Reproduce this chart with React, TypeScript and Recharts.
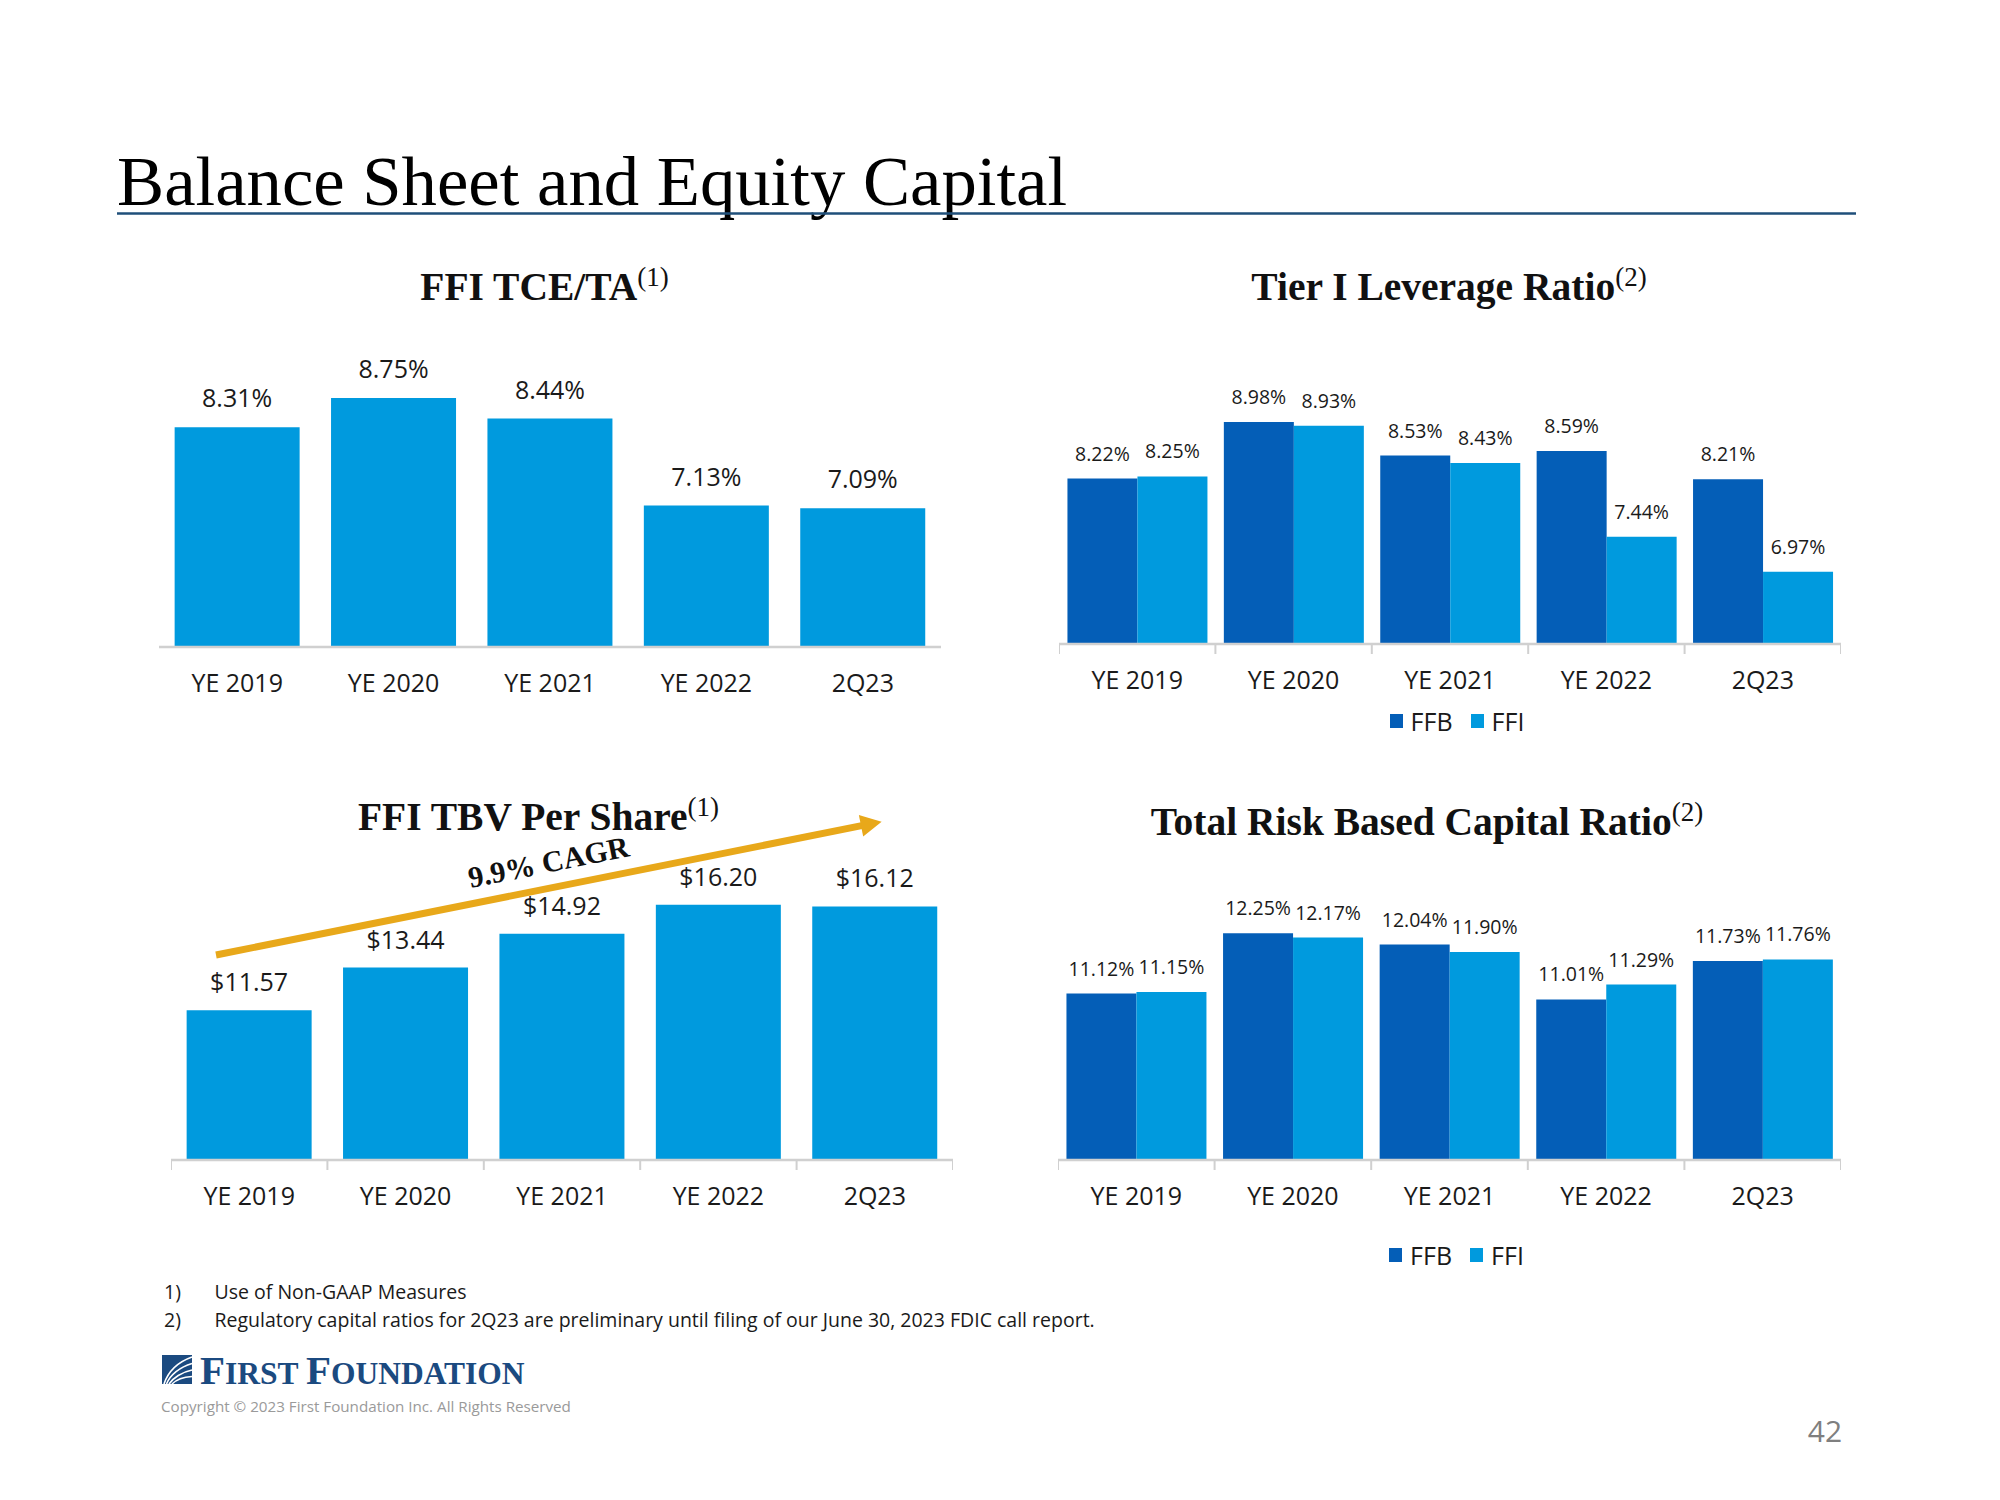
import React from 'react'
import { BarChart, Bar, XAxis, YAxis, LabelList, Legend } from 'recharts'

const PERIODS = ['YE 2019', 'YE 2020', 'YE 2021', 'YE 2022', '2Q23']
const TCE_TA = [8.31, 8.75, 8.44, 7.13, 7.09]
const TIER1_FFB = [8.22, 8.98, 8.53, 8.59, 8.21]
const TIER1_FFI = [8.25, 8.93, 8.43, 7.44, 6.97]
const TBV_PER_SHARE = [11.57, 13.44, 14.92, 16.2, 16.12]
const TRBC_FFB = [11.12, 12.25, 12.04, 11.01, 11.73]
const TRBC_FFI = [11.15, 12.17, 11.9, 11.29, 11.76]

const FFB_BLUE = '#045EB7'
const FFI_BLUE = '#009ADE'
const AXIS_GRAY = '#D0D0D0'
const INK = '#1a1a1a'
const GOLD = '#E8A81A'
const NAVY = '#1B4A80'
const SANS = '"Open Sans", "Noto Sans", sans-serif'
const SERIF = '"Liberation Serif", "Times New Roman", serif'

const singleRows = (vals: number[]) => PERIODS.map((period, i) => ({ period, ffi: vals[i] }))
const pairRows = (a: number[], b: number[]) =>
  PERIODS.map((period, i) => ({ period, ffb: a[i], ffi: b[i] }))

const pct = (v: number) => `${Number(v).toFixed(2)}%`
const dollars = (v: number) => `$${Number(v).toFixed(2)}`

type SeriesDef = { key: string; name: string; color: string }

const ONE_SERIES: SeriesDef[] = [{ key: 'ffi', name: 'FFI', color: FFI_BLUE }]
const TWO_SERIES: SeriesDef[] = [
  { key: 'ffb', name: 'FFB', color: FFB_BLUE },
  { key: 'ffi', name: 'FFI', color: FFI_BLUE },
]

type PanelProps = {
  rows: Record<string, string | number>[]
  series: SeriesDef[]
  left: number
  axisY: number
  width: number
  plotHeight: number
  domain: [number, number]
  labelSize: number
  labelOffset: number
  format: (v: number) => string
  tickGap: number
  boundaryTicks: boolean
  categoryGap: string
  legendY?: number
}

const TOP_ROOM = 70
const AXIS_ROOM = 130

function Panel(p: PanelProps) {
  const height = TOP_ROOM + p.plotHeight + AXIS_ROOM
  const top = p.axisY - p.plotHeight - TOP_ROOM
  const band = p.width / p.rows.length
  const last = p.rows.length - 1

  const renderTick = (t: any) => (
    <g>
      <text
        x={t.x}
        y={t.y + p.tickGap}
        textAnchor="middle"
        fontFamily={SANS}
        fontSize={25}
        fill={INK}
      >
        {t.payload.value}
      </text>
      {p.boundaryTicks && (
        <line x1={t.x - band / 2} x2={t.x - band / 2} y1={t.y} y2={t.y + 10} stroke={AXIS_GRAY} strokeWidth={2} />
      )}
      {p.boundaryTicks && t.index === last && (
        <line x1={t.x + band / 2} x2={t.x + band / 2} y1={t.y} y2={t.y + 10} stroke={AXIS_GRAY} strokeWidth={2} />
      )}
    </g>
  )

  const renderLegend = (lp: any) => (
    <div
      style={{
        display: 'flex',
        justifyContent: 'center',
        alignItems: 'center',
        fontFamily: SANS,
        fontSize: 25,
        color: INK,
        lineHeight: '30px',
        paddingLeft: 14,
      }}
    >
      {(lp.payload || []).map((item: any, i: number) => (
        <span key={item.value} style={{ display: 'inline-flex', alignItems: 'center', marginLeft: i ? 18 : 0 }}>
          <span style={{ width: 13, height: 14, background: item.color, marginRight: 8 }} />
          {item.value}
        </span>
      ))}
    </div>
  )

  return (
    <div style={{ position: 'absolute', left: p.left, top }}>
      <BarChart
        width={p.width}
        height={height}
        data={p.rows}
        margin={{ top: TOP_ROOM, right: 0, bottom: 0, left: 0 }}
        barCategoryGap={p.categoryGap}
        barGap={0}
      >
        <XAxis
          dataKey="period"
          height={AXIS_ROOM}
          axisLine={{ stroke: AXIS_GRAY, strokeWidth: 2.5 }}
          tickLine={false}
          tickSize={0}
          tickMargin={0}
          interval={0}
          tick={renderTick}
        />
        <YAxis hide domain={p.domain} allowDataOverflow />
        {p.series.map(s => (
          <Bar key={s.key} dataKey={s.key} name={s.name} fill={s.color} isAnimationActive={false}>
            <LabelList
              dataKey={s.key}
              position="top"
              offset={p.labelOffset}
              formatter={(v: any) => p.format(v)}
              fontFamily={SANS}
              fontSize={p.labelSize}
              fill={INK}
            />
          </Bar>
        ))}
        {p.legendY !== undefined && (
          <Legend
            layout="horizontal"
            verticalAlign="middle"
            align="center"
            wrapperStyle={{ top: p.legendY - top - 15, left: 0, width: p.width }}
            content={renderLegend}
          />
        )}
      </BarChart>
    </div>
  )
}

function Subtitle({ x, y, text, note }: { x: number; y: number; text: string; note: string }) {
  return (
    <text x={x} y={y} textAnchor="middle" fontFamily={SERIF} fontWeight="bold" fontSize={39.5} fill="#111">
      {text}
      <tspan fontSize={27} fontWeight="normal" dy={-14}>
        {note}
      </tspan>
    </text>
  )
}

function Overlay() {
  // growth arrow over the TBV chart
  const start = { x: 216, y: 955 }
  const tip = { x: 881.6, y: 821.7 }
  const dx = tip.x - start.x
  const dy = tip.y - start.y
  const len = Math.hypot(dx, dy)
  const ux = dx / len
  const uy = dy / len
  const headLen = 21
  const headHalf = 11
  const bx = tip.x - ux * headLen
  const by = tip.y - uy * headLen
  const angle = (Math.atan2(dy, dx) * 180) / Math.PI

  return (
    <svg width={2000} height={1500} style={{ position: 'absolute', left: 0, top: 0, pointerEvents: 'none' }}>
      <text x={117} y={205} fontFamily={SERIF} fontSize={70.7} fill="#000">
        Balance Sheet and Equity Capital
      </text>
      <line x1={117} x2={1856} y1={213.5} y2={213.5} stroke="#1F4F7A" strokeWidth={2.5} />

      <Subtitle x={544.5} y={300} text="FFI TCE/TA" note="(1)" />
      <Subtitle x={1449} y={300} text="Tier I Leverage Ratio" note="(2)" />
      <Subtitle x={538.5} y={830} text="FFI TBV Per Share" note="(1)" />
      <Subtitle x={1427} y={835} text="Total Risk Based Capital Ratio" note="(2)" />

      <line x1={start.x} y1={start.y} x2={bx + ux * 2} y2={by + uy * 2} stroke={GOLD} strokeWidth={7} />
      <polygon
        points={`${tip.x},${tip.y} ${bx - uy * headHalf},${by + ux * headHalf} ${bx + uy * headHalf},${by - ux * headHalf}`}
        fill={GOLD}
      />
      <text
        x={550.5}
        y={872}
        textAnchor="middle"
        fontFamily={SERIF}
        fontWeight="bold"
        fontSize={30}
        fill="#111"
        transform={`rotate(${angle} 550.5 872)`}
      >
        9.9% CAGR
      </text>

      <g fontFamily={SANS} fontSize={19.5} fill={INK}>
        <text x={164} y={1299}>1)</text>
        <text x={214.5} y={1299}>Use of Non-GAAP Measures</text>
        <text x={164} y={1326.5}>2)</text>
        <text x={214.5} y={1326.5}>
          Regulatory capital ratios for 2Q23 are preliminary until filing of our June 30, 2023 FDIC call report.
        </text>
      </g>

      <rect x={162} y={1355} width={30} height={29} fill={NAVY} />
      <g fill="none" stroke="#fff" strokeWidth={1.6}>
        <path d="M164 1384 C168 1372 178 1362 192 1357" />
        <path d="M166.5 1384 C170 1375 180 1367 192 1363.5" />
        <path d="M169 1384 C173 1378 182 1372 192 1370" />
        <path d="M172 1384 C176 1380 184 1377 192 1376.5" />
      </g>
      <text x={200} y={1384} fontFamily={SERIF} fontWeight="bold" fill={NAVY}>
        <tspan fontSize={41}>F</tspan>
        <tspan fontSize={31.5}>IRST </tspan>
        <tspan fontSize={41}>F</tspan>
        <tspan fontSize={31.5}>OUNDATION</tspan>
      </text>
      <text x={161} y={1412} fontFamily={SANS} fontSize={15.2} fill="#9a9a9a">
        Copyright © 2023 First Foundation Inc. All Rights Reserved
      </text>
      <text x={1825} y={1442} textAnchor="middle" fontFamily={SANS} fontSize={30} fill="#7f7f7f">
        42
      </text>
    </svg>
  )
}

export default function App() {
  return (
    <div
      style={{
        position: 'absolute',
        left: 0,
        top: 0,
        width: 2000,
        height: 1500,
        background: '#fff',
        overflow: 'hidden',
      }}
    >
      <Panel
        rows={singleRows(TCE_TA)}
        series={ONE_SERIES}
        left={159}
        axisY={647}
        width={782}
        plotHeight={332}
        domain={[5, 10]}
        labelSize={25}
        labelOffset={20}
        format={pct}
        tickGap={44.5}
        boundaryTicks={false}
        categoryGap="10%"
      />
      <Panel
        rows={pairRows(TIER1_FFB, TIER1_FFI)}
        series={TWO_SERIES}
        left={1059}
        axisY={643.5}
        width={782}
        plotHeight={298}
        domain={[6, 10]}
        labelSize={19.5}
        labelOffset={18}
        format={pct}
        tickGap={45}
        boundaryTicks
        categoryGap="5.4%"
        legendY={721}
      />
      <Panel
        rows={singleRows(TBV_PER_SHARE)}
        series={ONE_SERIES}
        left={171}
        axisY={1160}
        width={782}
        plotHeight={342}
        domain={[5, 20]}
        labelSize={25}
        labelOffset={19}
        format={dollars}
        tickGap={45}
        boundaryTicks
        categoryGap="10%"
      />
      <Panel
        rows={pairRows(TRBC_FFB, TRBC_FFI)}
        series={TWO_SERIES}
        left={1058}
        axisY={1160}
        width={783}
        plotHeight={320}
        domain={[8, 14]}
        labelSize={19.5}
        labelOffset={18}
        format={pct}
        tickGap={45}
        boundaryTicks
        categoryGap="5.4%"
        legendY={1255}
      />
      <Overlay />
    </div>
  )
}
